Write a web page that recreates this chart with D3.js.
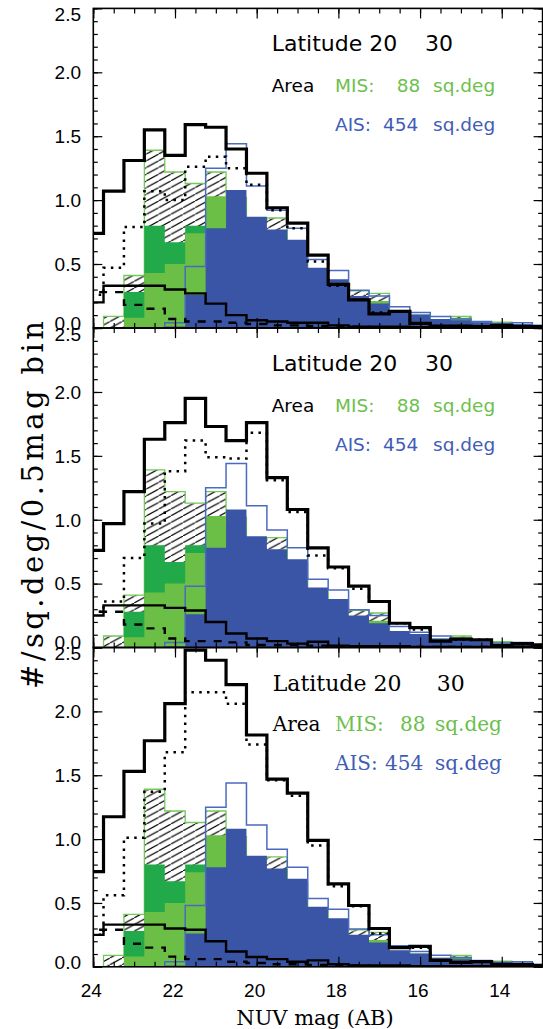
<!DOCTYPE html>
<html><head><meta charset="utf-8">
<script src="https://cdn.jsdelivr.net/npm/d3@7"></script>
<style>body{margin:0;background:#fff}svg{display:block}</style>
</head><body>
<svg id="chart" width="543" height="1029"></svg>
<script>
// ---------------- DATA ----------------
const binCenters = [24.0,23.5,23.0,22.5,22.0,21.5,21.0,20.5,20.0,19.5,19.0,18.5,18.0,17.5,17.0,16.5,16.0,15.5,15.0,14.5,14.0,13.5,13.0];

// observed MIS (green) and AIS (blue) histograms, same in every panel
const misTotal = [0,0.09,0.41,1.39,1.22,1.13,1.22,1.02,0.84,0.86,0.66,0.44,0.36,0.29,0.27,0.12,0.10,0.065,0.09,0.04,0.045,0.02,0.01];
const misDark  = [0,0,0.28,0.80,0.67,0.80,0.90,0.75,0.60,0.55,0.45,0.30,0.25,0.18,0.18,0.08,0.07,0.05,0.06,0.03,0.03,0.01,0.01];
const misLight = [0,0,0.08,0.43,0.50,0.74,1.03,0.95,0.78,0.65,0.55,0.38,0.32,0.22,0.21,0.10,0.09,0.06,0.08,0.035,0.04,0.015,0.01];
const aisTotal = [0,0,0,0,0.04,0.48,1.25,1.44,1.11,0.92,0.78,0.535,0.45,0.295,0.25,0.165,0.12,0.09,0.07,0.05,0.035,0.04,0.02];
const aisSub   = [0,0,0,0,0.01,0.26,0.78,1.08,0.87,0.77,0.69,0.47,0.38,0.25,0.19,0.13,0.105,0.07,0.06,0.045,0.03,0.03,0.02];

// model curves, panel 1 (top)
const topSolid  = [0.74,1.07,1.31,1.55,1.35,1.59,1.57,1.40,1.21,0.94,0.82,0.57,0.34,0.22,0.11,0.13,0.035,0.015,0.015,0.01,0.02,0.01,0.01];
const topDotted = [0.26,0.47,0.79,1.07,1.00,1.26,1.34,1.25,1.12,0.92,0.78,0.52,0.33,0.22,0.12,0.13,0.03,0.015,0.015,0.01,0.02,0.01,0.01];
const topThin   = [0.20,0.33,0.33,0.33,0.30,0.27,0.19,0.10,0.06,0.05,0.04,0.04,0.02,0.01,0.01,0.01,0.005,0.005,0.005,0.005,0.005,0.005,0.005];
const topDashed = [0.28,0.28,0.18,0.15,0.07,0.05,0.05,0.04,0.03,0.02,0.02,0.015,0.01,0.01,0.005,0.005,0.005,0.005,0.005,0.005,0.005,0.005,0.005];
// panel 2 (middle)
const midSolid  = [0.76,0.97,1.22,1.63,1.76,1.95,1.73,1.62,1.76,1.33,1.08,0.78,0.63,0.48,0.36,0.19,0.155,0.05,0.066,0.06,0.015,0.03,0.02];
const midDotted = [0.28,0.36,0.70,0.97,1.38,1.62,1.49,1.48,1.68,1.31,1.06,0.72,0.62,0.46,0.36,0.19,0.14,0.05,0.06,0.06,0.015,0.03,0.02];
const midThin   = [0.25,0.33,0.33,0.33,0.31,0.29,0.20,0.11,0.07,0.05,0.03,0.045,0.015,0.01,0.01,0.01,0.005,0.005,0.005,0.005,0.005,0.005,0.005];
const midDashed = [0.28,0.28,0.18,0.15,0.07,0.05,0.05,0.04,0.02,0.02,0.02,0.015,0.01,0.01,0.005,0.005,0.005,0.005,0.005,0.005,0.005,0.005,0.005];
// panel 3 (bottom)
const botSolid  = [0.745,1.175,1.53,1.77,2.06,2.48,2.40,2.21,1.815,1.47,1.36,0.99,0.65,0.48,0.30,0.15,0.16,0.05,0.035,0.04,0.02,0.02,0.01];
const botDotted = [0.25,0.56,1.01,1.37,1.68,2.15,2.15,2.06,1.74,1.46,1.34,0.95,0.63,0.475,0.26,0.15,0.15,0.05,0.035,0.04,0.02,0.02,0.01];
const botThin   = [0.25,0.33,0.33,0.33,0.30,0.29,0.20,0.12,0.077,0.06,0.04,0.05,0.02,0.01,0.01,0.01,0.005,0.005,0.005,0.005,0.005,0.005,0.005];
const botDashed = [0.29,0.29,0.18,0.15,0.08,0.06,0.06,0.04,0.03,0.02,0.02,0.015,0.01,0.01,0.005,0.005,0.005,0.005,0.005,0.005,0.005,0.005,0.005];

const yTickLabels = [0.0,0.5,1.0,1.5,2.0,2.5];
const xTickLabels = [24,22,20,18,16,14];
const panelSerif = [false,false,true];
const latitudeText = ["Latitude 20","30"];
const misText = ["MIS:","88","sq.deg"];
const aisText = ["AIS:","454","sq.deg"];

const panels = [
  {solid:topSolid, dotted:topDotted, thin:topThin, dashed:topDashed},
  {solid:midSolid, dotted:midDotted, thin:midThin, dashed:midDashed},
  {solid:botSolid, dotted:botDotted, thin:botThin, dashed:botDashed}
];

// ---------------- LAYOUT ----------------
const svg = d3.select("#chart");
const L = 93.3, R = 542.6;
const tops = [8.4, 328.1, 647.5], bottoms = [327.9, 647.5, 966.8];
const x = d3.scaleLinear().domain([24,13]).range([L,R]);
const HB = 0.25;

const C = {
  dark:"#22a94a", light:"#6cbf46", blue:"#3a55a5", blueLine:"#4a6ac2",
  greenLine:"#74c95a", greenText:"#6cc04c", blueText:"#3f5db6"
};

const defs = svg.append("defs");
const pat = defs.append("pattern").attr("id","hatch").attr("patternUnits","userSpaceOnUse")
  .attr("width",12.2).attr("height",6.7);
pat.append("rect").attr("width",12.2).attr("height",6.7).attr("fill","#fff");
pat.append("path").attr("d","M-1,7.25 L13.2,-0.55").attr("stroke","#000").attr("stroke-width",1.15);

function stepLine(vals, y){
  const pts = [];
  vals.forEach((v,i)=>{ const c=binCenters[i]; pts.push([x(c+HB),y(v)],[x(c-HB),y(v)]); });
  return d3.line()(pts);
}
function stepArea(vals, y){
  let s = vals.findIndex(v=>v>0); if(s<0) return "";
  const pts = [[x(binCenters[s]+HB), y(0)]];
  for(let i=s;i<vals.length;i++){ const c=binCenters[i]; pts.push([x(c+HB),y(vals[i])],[x(c-HB),y(vals[i])]); }
  pts.push([x(binCenters[vals.length-1]-HB), y(0)]);
  return d3.line()(pts);
}

panels.forEach((p,k)=>{
  const top=tops[k], bot=bottoms[k];
  const y = d3.scaleLinear().domain([0,2.5]).range([bot,top]);
  defs.append("clipPath").attr("id","clip"+k).append("rect")
    .attr("x",L).attr("y",top).attr("width",R-L).attr("height",bot-top);
  const g = svg.append("g").attr("clip-path",`url(#clip${k})`);

  g.append("path").attr("d",stepArea(misTotal,y)).attr("fill","url(#hatch)")
    .attr("stroke",C.greenLine).attr("stroke-width",1.3);
  g.append("path").attr("d",stepArea(misDark,y)).attr("fill",C.dark);
  g.append("path").attr("d",stepArea(misLight,y)).attr("fill",C.light);
  g.append("path").attr("d",stepArea(aisSub,y)).attr("fill",C.blue);
  g.append("path").attr("d",stepArea(aisTotal,y)).attr("fill","none")
    .attr("stroke",C.blueLine).attr("stroke-width",1.5);

  g.append("path").attr("d",stepLine(p.dashed,y)).attr("fill","none").attr("stroke","#000")
    .attr("stroke-width",2.4).attr("stroke-dasharray","8,8");
  g.append("path").attr("d",stepLine(p.thin,y)).attr("fill","none").attr("stroke","#000")
    .attr("stroke-width",2.4);
  g.append("path").attr("d",stepLine(p.dotted,y)).attr("fill","none").attr("stroke","#000")
    .attr("stroke-width",2.5).attr("stroke-dasharray","2.5,5.3");
  g.append("path").attr("d",stepLine(p.solid,y)).attr("fill","none").attr("stroke","#000")
    .attr("stroke-width",3.2);

  // axes (ticks inward)
  const minorY = d3.range(0,26).map(i=>i/10);
  const minorX = d3.range(0,23).map(i=>13+i*0.5);
  const majorX = [24,22,20,18,16,14];
  const ax = (axis, tx, ty) => {
    const a = svg.append("g").attr("transform",`translate(${tx},${ty})`).call(axis);
    a.select(".domain").remove(); a.selectAll("text").remove();
    a.selectAll("line").attr("stroke","#000").attr("stroke-width",1.2);
  };
  ax(d3.axisLeft(y).tickValues(minorY).tickSize(-4.5), L, 0);
  ax(d3.axisLeft(y).tickValues(yTickLabels).tickSize(-9), L, 0);
  ax(d3.axisRight(y).tickValues(minorY).tickSize(-4.5), R, 0);
  ax(d3.axisRight(y).tickValues(yTickLabels).tickSize(-9), R, 0);
  ax(d3.axisBottom(x).tickValues(minorX).tickSize(-5), 0, bot);
  ax(d3.axisBottom(x).tickValues(majorX).tickSize(-10), 0, bot);
  ax(d3.axisTop(x).tickValues(minorX).tickSize(-5), 0, top);
  ax(d3.axisTop(x).tickValues(majorX).tickSize(-10), 0, top);

  svg.append("rect").attr("x",L).attr("y",top).attr("width",R-L).attr("height",bot-top)
    .attr("fill","none").attr("stroke","#000").attr("stroke-width",1.6);

  // y tick labels
  svg.append("g").selectAll("text").data(yTickLabels).join("text")
    .attr("x",81).attr("y",d=>y(d)+ (d===2.5?6:(d===0?-5:0)))
    .attr("dy","0.36em").attr("text-anchor","end")
    .attr("font-family","Liberation Sans, Arial, sans-serif").attr("font-size",19)
    .text(d=>d3.format(".1f")(d));

  // annotations
  const serif = panelSerif[k];
  const fam = serif ? "DejaVu Serif, serif" : "DejaVu Sans, sans-serif";
  const t = svg.append("g").attr("font-family",fam);
  const b1 = top + 43, b2 = top + 83.5, b3 = top + 122.5;
  const big = 22, small = serif ? 20 : 18.5;
  t.append("text").attr("x",serif?272.7:271.7).attr("y",b1).attr("font-size",big).text(latitudeText[0]);
  t.append("text").attr("x",serif?436.7:425).attr("y",b1).attr("font-size",big).text(latitudeText[1]);
  t.append("text").attr("x",serif?272.7:271.7).attr("y",b2).attr("font-size",small).text("Area");
  const mx = serif ? [335,400,435] : [335,396.7,433];
  const axs = serif ? [335,385,435] : [335,383,433];
  misText.forEach((s,i)=>t.append("text").attr("x",mx[i]).attr("y",b2).attr("font-size",small)
    .attr("fill",C.greenText).text(s));
  aisText.forEach((s,i)=>t.append("text").attr("x",axs[i]).attr("y",b3).attr("font-size",small)
    .attr("fill",C.blueText).text(s));
});

// x tick labels and titles
svg.append("g").selectAll("text").data(xTickLabels).join("text")
  .attr("x",d=>x(d)-2).attr("y",997).attr("text-anchor","middle")
  .attr("font-family","Liberation Sans, Arial, sans-serif").attr("font-size",19)
  .text(d=>d);
svg.append("text").attr("x",315).attr("y",1025).attr("text-anchor","middle")
  .attr("font-family","DejaVu Serif, serif").attr("font-size",21).text("NUV mag (AB)");
svg.append("text").attr("transform","translate(43,505) rotate(-90)").attr("text-anchor","middle")
  .attr("font-family","DejaVu Serif, serif").attr("font-size",29)
  .attr("textLength",368).attr("lengthAdjust","spacing")
  .text("#/sq.deg/0.5mag bin");
</script>
</body></html>
